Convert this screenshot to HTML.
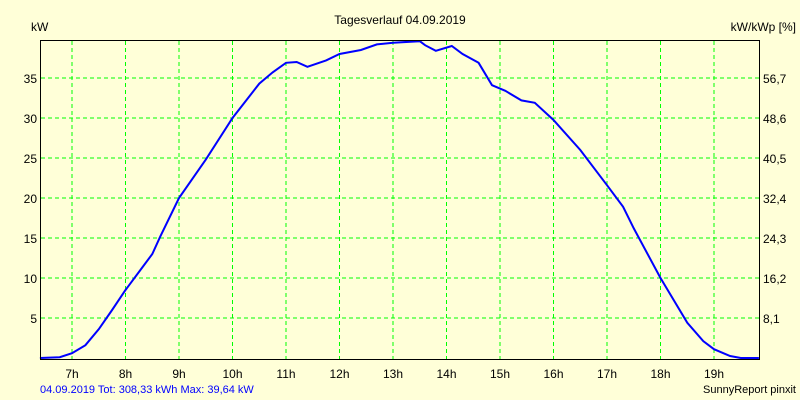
<!DOCTYPE html>
<html><head><meta charset="utf-8"><style>
body{margin:0;background:#ffffd8;}
svg{display:block;font-family:"Liberation Sans",sans-serif;font-size:12px;}
</style></head><body>
<svg id="chart" width="800" height="400" xmlns="http://www.w3.org/2000/svg">
<rect width="800" height="400" fill="#ffffd8"/>
<text x="400" y="24" text-anchor="middle">Tagesverlauf 04.09.2019</text>
<text x="31" y="31">kW</text>
<text x="796" y="31" text-anchor="end">kW/kWp [%]</text>
<g id="grid"></g><g id="labels"></g>
<path id="line" fill="none" stroke="#0000ff" stroke-width="2"/>
<rect x="40.5" y="40.5" width="719" height="319" fill="none" stroke="#000" stroke-width="1"/>
<text x="40" y="393" fill="#0000ff" font-size="11">04.09.2019 Tot: 308,33 kWh Max: 39,64 kW</text>
<text x="796" y="393" text-anchor="end" font-size="11">SunnyReport pinxit</text>
</svg>
<script>
const hours=[6.4,6.77,7.0,7.25,7.5,7.75,8.0,8.3,8.5,8.65,9.0,9.5,10.0,10.5,10.75,11.0,11.2,11.4,11.75,12.0,12.4,12.7,13.0,13.5,13.6,13.8,14.1,14.3,14.6,14.85,15.1,15.4,15.65,16.0,16.5,17.0,17.3,17.5,18.0,18.5,18.8,19.0,19.3,19.5,19.84];
const kw=[0,0.1,0.6,1.6,3.6,6,8.5,11.2,13,15.2,20,24.8,30,34.3,35.7,36.9,37,36.4,37.2,38,38.5,39.2,39.4,39.6,39.1,38.4,39,38,36.9,34.1,33.4,32.2,31.9,29.75,26,21.6,18.9,16.2,10,4.4,2.1,1.1,0.25,0,0];
const xTicks=[7,8,9,10,11,12,13,14,15,16,17,18,19];
const yTicks=[5,10,15,20,25,30,35];
const y2Labels=["8,1","16,2","24,3","32,4","40,5","48,6","56,7"];
const x=h=>72+(h-7)*53.5;
const y=v=>358-v*8;
const NS="http://www.w3.org/2000/svg";
const grid=document.getElementById('grid'),labels=document.getElementById('labels');
function mk(tag,attrs,parent){const e=document.createElementNS(NS,tag);for(const k in attrs)e.setAttribute(k,attrs[k]);parent.appendChild(e);return e;}
xTicks.forEach(h=>{
 const l=mk('line',{x1:x(h),x2:x(h),y1:41,y2:359,stroke:'#00ff00','stroke-dasharray':'4,3'},grid);
 
 
 const t=mk('text',{x:x(h),y:378,'text-anchor':'middle'},labels);t.textContent=h+'h';
 
 
});
yTicks.forEach((v,i)=>{
 const l=mk('line',{x1:41,x2:759,y1:y(v),y2:y(v),stroke:'#00ff00','stroke-dasharray':'4,3'},grid);
 
 
 const t=mk('text',{x:37,y:y(v)+5,'text-anchor':'end'},labels);t.textContent=v;
 
 
 const t2=mk('text',{x:763,y:y(v)+5},labels);t2.textContent=y2Labels[i];
 
 
});
document.getElementById('line').setAttribute('d',hours.map((h,i)=>(i?'L':'M')+x(h).toFixed(1)+','+y(kw[i]).toFixed(1)).join(''));
</script>
</body></html>
